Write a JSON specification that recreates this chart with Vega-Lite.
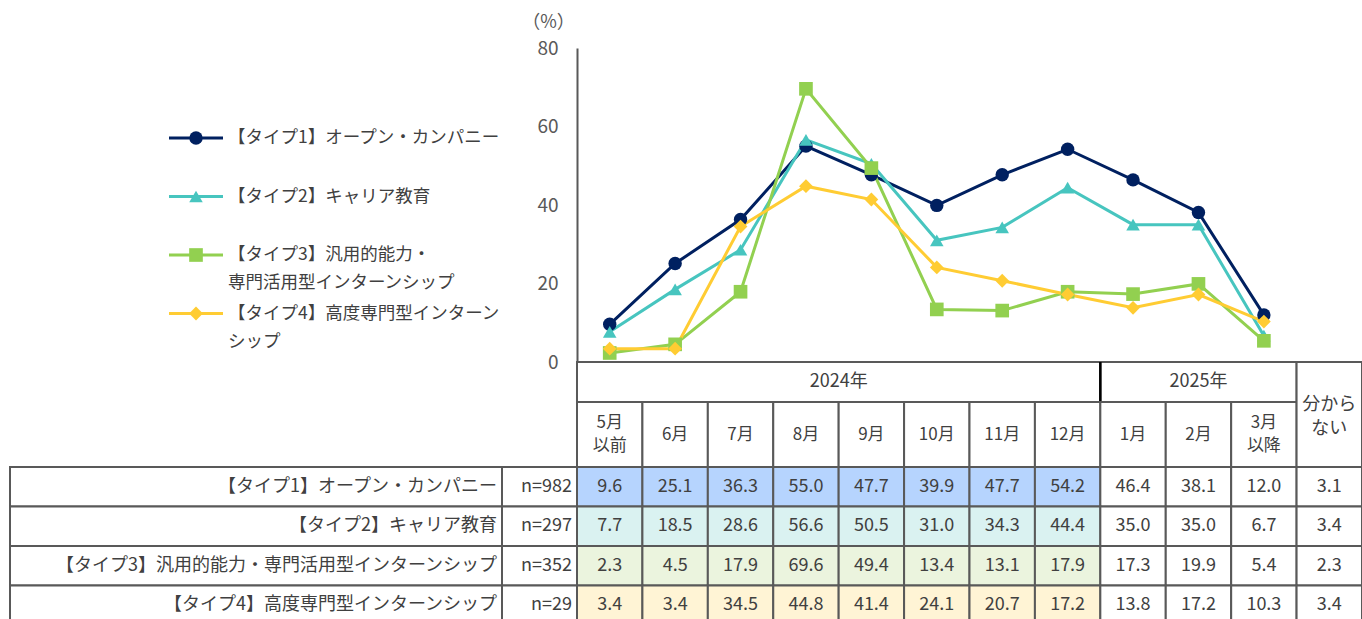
{
  "$schema": "https://vega.github.io/schema/vega-lite/v6.json",
  "width": 1362,
  "height": 619,
  "padding": 0,
  "autosize": {"type": "none"},
  "background": "white",
  "config": {"view": {"stroke": null}, "font": "Noto Sans CJK JP"},
  "datasets": {
    "months": [
      {"month": "5月以前", "label": "5月\n以前", "year": "2024年", "ord": 0},
      {"month": "6月", "label": "6月", "year": "2024年", "ord": 1},
      {"month": "7月", "label": "7月", "year": "2024年", "ord": 2},
      {"month": "8月", "label": "8月", "year": "2024年", "ord": 3},
      {"month": "9月", "label": "9月", "year": "2024年", "ord": 4},
      {"month": "10月", "label": "10月", "year": "2024年", "ord": 5},
      {"month": "11月", "label": "11月", "year": "2024年", "ord": 6},
      {"month": "12月", "label": "12月", "year": "2024年", "ord": 7},
      {"month": "1月", "label": "1月", "year": "2025年", "ord": 8},
      {"month": "2月", "label": "2月", "year": "2025年", "ord": 9},
      {"month": "3月以降", "label": "3月\n以降", "year": "2025年", "ord": 10},
      {"month": "分からない", "label": "分から\nない", "year": null, "ord": 11}
    ],
    "types": [
      {"type": "t1", "name": "【タイプ1】オープン・カンパニー", "legend": "【タイプ1】オープン・カンパニー", "n": "n=982"},
      {"type": "t2", "name": "【タイプ2】キャリア教育", "legend": "【タイプ2】キャリア教育", "n": "n=297"},
      {"type": "t3", "name": "【タイプ3】汎用的能力・専門活用型インターンシップ", "legend": "【タイプ3】汎用的能力・\n専門活用型インターンシップ", "n": "n=352"},
      {"type": "t4", "name": "【タイプ4】高度専門型インターンシップ", "legend": "【タイプ4】高度専門型インターン\nシップ", "n": "n=29"}
    ],
    "cells": [
      {"type": "t1", "month": "5月以前", "year": "2024年", "v": 9.6},
      {"type": "t1", "month": "6月", "year": "2024年", "v": 25.1},
      {"type": "t1", "month": "7月", "year": "2024年", "v": 36.3},
      {"type": "t1", "month": "8月", "year": "2024年", "v": 55.0},
      {"type": "t1", "month": "9月", "year": "2024年", "v": 47.7},
      {"type": "t1", "month": "10月", "year": "2024年", "v": 39.9},
      {"type": "t1", "month": "11月", "year": "2024年", "v": 47.7},
      {"type": "t1", "month": "12月", "year": "2024年", "v": 54.2},
      {"type": "t1", "month": "1月", "year": "2025年", "v": 46.4},
      {"type": "t1", "month": "2月", "year": "2025年", "v": 38.1},
      {"type": "t1", "month": "3月以降", "year": "2025年", "v": 12.0},
      {"type": "t1", "month": "分からない", "year": null, "v": 3.1},
      {"type": "t2", "month": "5月以前", "year": "2024年", "v": 7.7},
      {"type": "t2", "month": "6月", "year": "2024年", "v": 18.5},
      {"type": "t2", "month": "7月", "year": "2024年", "v": 28.6},
      {"type": "t2", "month": "8月", "year": "2024年", "v": 56.6},
      {"type": "t2", "month": "9月", "year": "2024年", "v": 50.5},
      {"type": "t2", "month": "10月", "year": "2024年", "v": 31.0},
      {"type": "t2", "month": "11月", "year": "2024年", "v": 34.3},
      {"type": "t2", "month": "12月", "year": "2024年", "v": 44.4},
      {"type": "t2", "month": "1月", "year": "2025年", "v": 35.0},
      {"type": "t2", "month": "2月", "year": "2025年", "v": 35.0},
      {"type": "t2", "month": "3月以降", "year": "2025年", "v": 6.7},
      {"type": "t2", "month": "分からない", "year": null, "v": 3.4},
      {"type": "t3", "month": "5月以前", "year": "2024年", "v": 2.3},
      {"type": "t3", "month": "6月", "year": "2024年", "v": 4.5},
      {"type": "t3", "month": "7月", "year": "2024年", "v": 17.9},
      {"type": "t3", "month": "8月", "year": "2024年", "v": 69.6},
      {"type": "t3", "month": "9月", "year": "2024年", "v": 49.4},
      {"type": "t3", "month": "10月", "year": "2024年", "v": 13.4},
      {"type": "t3", "month": "11月", "year": "2024年", "v": 13.1},
      {"type": "t3", "month": "12月", "year": "2024年", "v": 17.9},
      {"type": "t3", "month": "1月", "year": "2025年", "v": 17.3},
      {"type": "t3", "month": "2月", "year": "2025年", "v": 19.9},
      {"type": "t3", "month": "3月以降", "year": "2025年", "v": 5.4},
      {"type": "t3", "month": "分からない", "year": null, "v": 2.3},
      {"type": "t4", "month": "5月以前", "year": "2024年", "v": 3.4},
      {"type": "t4", "month": "6月", "year": "2024年", "v": 3.4},
      {"type": "t4", "month": "7月", "year": "2024年", "v": 34.5},
      {"type": "t4", "month": "8月", "year": "2024年", "v": 44.8},
      {"type": "t4", "month": "9月", "year": "2024年", "v": 41.4},
      {"type": "t4", "month": "10月", "year": "2024年", "v": 24.1},
      {"type": "t4", "month": "11月", "year": "2024年", "v": 20.7},
      {"type": "t4", "month": "12月", "year": "2024年", "v": 17.2},
      {"type": "t4", "month": "1月", "year": "2025年", "v": 13.8},
      {"type": "t4", "month": "2月", "year": "2025年", "v": 17.2},
      {"type": "t4", "month": "3月以降", "year": "2025年", "v": 10.3},
      {"type": "t4", "month": "分からない", "year": null, "v": 3.4}
    ]
  },
  "resolve": {"scale": {"x": "independent", "y": "independent", "color": "independent", "fill": "independent", "shape": "independent", "size": "independent"}},
  "layer": [
    {
      "data": {"name": "cells"},
      "encoding": {
        "x": {"field": "month", "type": "nominal", "scale": {"type": "band", "domain": ["5月以前","6月","7月","8月","9月","10月","11月","12月","1月","2月","3月以降","分からない"], "range": [577, 1362], "paddingInner": 0, "paddingOuter": 0}, "axis": null},
        "y": {"field": "type", "type": "nominal", "scale": {"type": "band", "domain": ["t1","t2","t3","t4"], "range": [467, 625], "paddingInner": 0, "paddingOuter": 0}, "axis": null}
      },
      "layer": [
        {
          "mark": {"type": "rect", "stroke": "#595959", "strokeWidth": 2},
          "encoding": {
            "fill": {"condition": {"test": "datum.year === '2024年'", "field": "type", "type": "nominal", "scale": {"domain": ["t1","t2","t3","t4"], "range": ["#B6D4FE","#DAF2F1","#EBF4DE","#FFF4D5"]}, "legend": null}, "value": "#FFFFFF"}
          }
        },
        {
          "mark": {"type": "text", "fontSize": 18, "color": "#404040"},
          "encoding": {"text": {"field": "v", "type": "quantitative", "format": ".1f"}}
        }
      ]
    },
    {
      "data": {"name": "types"},
      "encoding": {
        "y": {"field": "type", "type": "nominal", "scale": {"type": "band", "domain": ["t1","t2","t3","t4"], "range": [467, 625], "paddingInner": 0, "paddingOuter": 0}, "axis": null}
      },
      "layer": [
        {
          "mark": {"type": "rect", "fill": "#FFFFFF", "stroke": "#595959", "strokeWidth": 2},
          "encoding": {
            "x": {"datum": 0, "type": "quantitative", "scale": {"domain": [0, 1], "range": [10, 502]}, "axis": null},
            "x2": {"datum": 1}
          }
        },
        {
          "mark": {"type": "text", "align": "right", "dx": -5, "fontSize": 18, "color": "#404040"},
          "encoding": {
            "x": {"datum": 1, "type": "quantitative", "scale": {"domain": [0, 1], "range": [10, 502]}, "axis": null},
            "text": {"field": "name", "type": "nominal"}
          }
        }
      ]
    },
    {
      "data": {"name": "types"},
      "encoding": {
        "y": {"field": "type", "type": "nominal", "scale": {"type": "band", "domain": ["t1","t2","t3","t4"], "range": [467, 625], "paddingInner": 0, "paddingOuter": 0}, "axis": null}
      },
      "layer": [
        {
          "mark": {"type": "rect", "fill": "#FFFFFF", "stroke": "#595959", "strokeWidth": 2},
          "encoding": {
            "x": {"datum": 0, "type": "quantitative", "scale": {"domain": [0, 1], "range": [502, 577]}, "axis": null},
            "x2": {"datum": 1}
          }
        },
        {
          "mark": {"type": "text", "align": "right", "dx": -5, "fontSize": 18, "color": "#404040"},
          "encoding": {
            "x": {"datum": 1, "type": "quantitative", "scale": {"domain": [0, 1], "range": [502, 577]}, "axis": null},
            "text": {"field": "n", "type": "nominal"}
          }
        }
      ]
    },
    {
      "data": {"name": "months"},
      "transform": [
        {"filter": "datum.year != null"},
        {"aggregate": [{"op": "count", "as": "cols"}], "groupby": ["year"]}
      ],
      "mark": {"type": "bar", "fill": "#FFFFFF", "stroke": "#595959", "strokeWidth": 2},
      "encoding": {
        "x": {"field": "cols", "type": "quantitative", "stack": "zero", "scale": {"domain": [0, 12], "range": [577, 1362]}, "axis": null},
        "y": {"datum": "year", "type": "nominal", "scale": {"type": "band", "domain": ["year"], "range": [362, 402], "paddingInner": 0, "paddingOuter": 0}, "axis": null},
        "detail": {"field": "year", "type": "nominal"},
        "order": {"field": "year", "sort": "ascending"}
      }
    },
    {
      "data": {"name": "months"},
      "transform": [
        {"filter": "datum.year != null"},
        {"aggregate": [{"op": "min", "field": "ord", "as": "first"}], "groupby": ["year"]},
        {"filter": "datum.first > 0"}
      ],
      "mark": {"type": "rule", "stroke": "#000000", "strokeWidth": 2.5},
      "encoding": {
        "x": {"field": "first", "type": "quantitative", "scale": {"domain": [0, 12], "range": [577, 1362]}, "axis": null},
        "y": {"datum": 0, "type": "quantitative", "scale": {"domain": [0, 1], "range": [362, 402]}, "axis": null},
        "y2": {"datum": 1}
      }
    },
    {
      "data": {"name": "months"},
      "transform": [
        {"filter": "datum.year != null"},
        {"aggregate": [{"op": "mean", "field": "ord", "as": "mid"}], "groupby": ["year"]}
      ],
      "mark": {"type": "text", "fontSize": 18, "color": "#404040"},
      "encoding": {
        "x": {"field": "mid", "type": "quantitative", "scale": {"domain": [-0.5, 11.5], "range": [577, 1362]}, "axis": null},
        "y": {"datum": "year", "type": "nominal", "scale": {"type": "band", "domain": ["year"], "range": [362, 402], "paddingInner": 0, "paddingOuter": 0}, "axis": null},
        "text": {"field": "year", "type": "nominal"}
      }
    },
    {
      "data": {"name": "months"},
      "transform": [{"filter": "datum.year != null"}],
      "encoding": {
        "x": {"field": "month", "type": "nominal", "scale": {"type": "band", "domain": ["5月以前","6月","7月","8月","9月","10月","11月","12月","1月","2月","3月以降","分からない"], "range": [577, 1362], "paddingInner": 0, "paddingOuter": 0}, "axis": null},
        "y": {"datum": "m", "type": "nominal", "scale": {"type": "band", "domain": ["m"], "range": [402, 467], "paddingInner": 0, "paddingOuter": 0}, "axis": null}
      },
      "layer": [
        {"mark": {"type": "rect", "fill": "#FFFFFF", "stroke": "#595959", "strokeWidth": 2}},
        {
          "transform": [{"filter": "length(datum.label) <= 3"}],
          "mark": {"type": "text", "fontSize": 17, "color": "#404040"},
          "encoding": {"text": {"field": "label", "type": "nominal"}}
        },
        {
          "transform": [{"filter": "length(datum.label) > 3"}],
          "mark": {"type": "text", "fontSize": 17, "color": "#404040", "lineBreak": "\n", "lineHeight": 23, "dy": -11.5},
          "encoding": {"text": {"field": "label", "type": "nominal"}}
        }
      ]
    },
    {
      "data": {"name": "months"},
      "transform": [{"filter": "datum.year == null"}],
      "encoding": {
        "x": {"field": "month", "type": "nominal", "scale": {"type": "band", "domain": ["5月以前","6月","7月","8月","9月","10月","11月","12月","1月","2月","3月以降","分からない"], "range": [577, 1362], "paddingInner": 0, "paddingOuter": 0}, "axis": null},
        "y": {"datum": "h", "type": "nominal", "scale": {"type": "band", "domain": ["h"], "range": [362, 467], "paddingInner": 0, "paddingOuter": 0}, "axis": null}
      },
      "layer": [
        {"mark": {"type": "rect", "fill": "#FFFFFF", "stroke": "#595959", "strokeWidth": 2}},
        {"mark": {"type": "text", "fontSize": 18, "color": "#404040", "lineBreak": "\n", "lineHeight": 24, "dy": -10}, "encoding": {"text": {"field": "label", "type": "nominal"}}}
      ]
    },
    {
      "data": {"name": "cells"},
      "transform": [{"filter": "datum.month !== '分からない'"}],
      "encoding": {
        "x": {"field": "month", "type": "nominal", "scale": {"type": "point", "domain": ["5月以前","6月","7月","8月","9月","10月","11月","12月","1月","2月","3月以降","分からない"], "range": [577, 1362], "padding": 0.5}, "axis": null},
        "y": {
          "field": "v", "type": "quantitative",
          "scale": {"domain": [0, 80], "range": [362, 48]},
          "axis": {
            "orient": "left", "offset": -577, "values": [0, 20, 40, 60, 80],
            "ticks": false, "grid": false, "domainColor": "#595959", "domainWidth": 2,
            "labelFontSize": 19, "labelColor": "#595959", "labelPadding": 19,
            "title": "（%）", "titleAngle": 0, "titleFontSize": 18, "titleFontWeight": "normal",
            "titleColor": "#595959", "titleX": -29, "titleY": 22, "titleAlign": "center", "titleBaseline": "middle"
          }
        },
        "color": {"field": "type", "type": "nominal", "scale": {"domain": ["t1","t2","t3","t4"], "range": ["#002060","#47C5BF","#92D050","#FFCC33"]}, "legend": null}
      },
      "layer": [
        {"mark": {"type": "line", "strokeWidth": 3}},
        {
          "mark": {"type": "point", "filled": true, "opacity": 1},
          "encoding": {
            "shape": {"field": "type", "type": "nominal", "scale": {"domain": ["t1","t2","t3","t4"], "range": ["circle","triangle-up","square","diamond"]}, "legend": null},
            "size": {"field": "type", "type": "nominal", "scale": {"domain": ["t1","t2","t3","t4"], "range": [180, 190, 170, 230]}, "legend": null}
          }
        }
      ]
    },
    {
      "data": {"name": "types"},
      "encoding": {
        "y": {"field": "type", "type": "nominal", "scale": {"type": "point", "domain": ["t1","t2","t3","t4"], "range": [138, 313.5], "padding": 0}, "axis": null},
        "color": {"field": "type", "type": "nominal", "scale": {"domain": ["t1","t2","t3","t4"], "range": ["#002060","#47C5BF","#92D050","#FFCC33"]}, "legend": null}
      },
      "layer": [
        {
          "mark": {"type": "rule", "strokeWidth": 3},
          "encoding": {
            "x": {"datum": 0, "type": "quantitative", "scale": {"domain": [0, 1], "range": [169, 223]}, "axis": null},
            "x2": {"datum": 1}
          }
        },
        {
          "mark": {"type": "point", "filled": true, "opacity": 1},
          "encoding": {
            "x": {"datum": 0.5, "type": "quantitative", "scale": {"domain": [0, 1], "range": [169, 223]}, "axis": null},
            "shape": {"field": "type", "type": "nominal", "scale": {"domain": ["t1","t2","t3","t4"], "range": ["circle","triangle-up","square","diamond"]}, "legend": null},
            "size": {"field": "type", "type": "nominal", "scale": {"domain": ["t1","t2","t3","t4"], "range": [180, 190, 170, 230]}, "legend": null}
          }
        },
        {
          "mark": {"type": "text", "align": "left", "baseline": "top", "dx": 5, "dy": -9, "fontSize": 17.5, "lineBreak": "\n", "lineHeight": 28},
          "encoding": {
            "x": {"datum": 1, "type": "quantitative", "scale": {"domain": [0, 1], "range": [169, 223]}, "axis": null},
            "text": {"field": "legend", "type": "nominal"},
            "color": {"value": "#404040"}
          }
        }
      ]
    }
  ]
}
